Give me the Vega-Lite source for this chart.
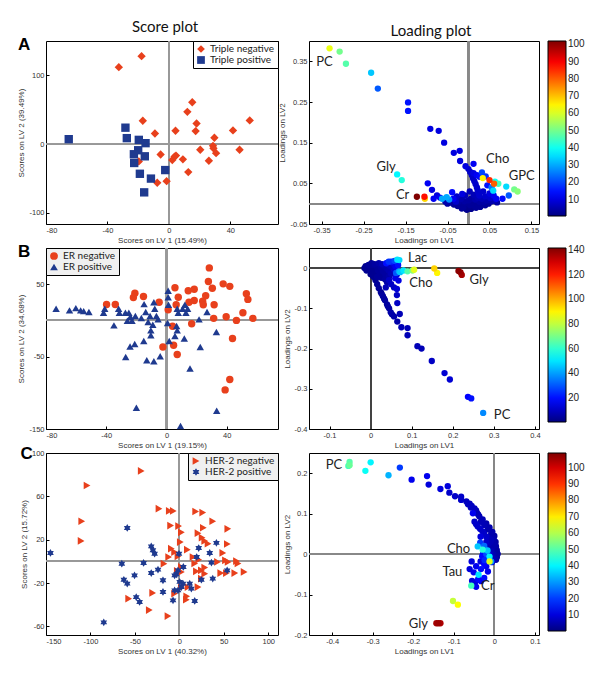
{
  "$schema": "https://vega.github.io/schema/vega-lite/v6.json",
  "padding": {"left": 17, "top": 19, "right": 4, "bottom": 4},
  "config": {
    "view": {"stroke": "#000", "strokeWidth": 1},
    "axis": {"grid": false, "domain": false, "tickColor": "#000", "tickSize": -3, "labelPadding": 5, "labelFont": "Liberation Sans", "labelFontSize": 7.5, "labelColor": "#333", "titleFont": "Liberation Sans", "titleFontSize": 8, "titleFontWeight": "normal", "titleColor": "#333", "labelOverlap": false, "titlePadding": 3, "labelExpr": "replace(format(datum.value, '~g'), '\u2212', '-')"},
    "title": {"font": "Lato", "fontSize": 15, "fontWeight": "normal", "color": "#111"}
  },
  "datasets": {
    "sA": [
      {"x": -32.6, "y": 112, "g": "Triple negative"}, {"x": -17.8, "y": 128, "g": "Triple negative"}, {"x": -17, "y": 34, "g": "Triple negative"}, {"x": -9.1, "y": 15.6, "g": "Triple negative"}, {"x": -5.4, "y": -15, "g": "Triple negative"}, {"x": 4.3, "y": 19.5, "g": "Triple negative"}, {"x": 12, "y": 47, "g": "Triple negative"}, {"x": 15.2, "y": 61, "g": "Triple negative"}, {"x": 18, "y": 30, "g": "Triple negative"}, {"x": 17.4, "y": 19, "g": "Triple negative"}, {"x": 20.4, "y": -8, "g": "Triple negative"}, {"x": 29.6, "y": 9.3, "g": "Triple negative"}, {"x": 28.7, "y": -2.4, "g": "Triple negative"}, {"x": 29, "y": -6, "g": "Triple negative"}, {"x": 30.7, "y": -13, "g": "Triple negative"}, {"x": 26, "y": -24, "g": "Triple negative"}, {"x": 41.7, "y": 20, "g": "Triple negative"}, {"x": 46, "y": -8, "g": "Triple negative"}, {"x": 52.6, "y": 34.6, "g": "Triple negative"}, {"x": 2.2, "y": -23, "g": "Triple negative"}, {"x": 3.7, "y": -18, "g": "Triple negative"}, {"x": 4.6, "y": -16.6, "g": "Triple negative"}, {"x": 9.1, "y": -22, "g": "Triple negative"}, {"x": 12.6, "y": -40.5, "g": "Triple negative"}, {"x": -1.5, "y": -53.7, "g": "Triple negative"}, {"x": -7.6, "y": -56, "g": "Triple negative"}, {"x": -19.6, "y": -25, "g": "Triple negative"},
      {"x": -65.2, "y": 7.3, "g": "Triple positive"}, {"x": -28.3, "y": 24, "g": "Triple positive"}, {"x": -27.4, "y": 8.8, "g": "Triple positive"}, {"x": -19.6, "y": 6.3, "g": "Triple positive"}, {"x": -15.2, "y": 1.5, "g": "Triple positive"}, {"x": -20, "y": -8.8, "g": "Triple positive"}, {"x": -22.8, "y": -14.6, "g": "Triple positive"}, {"x": -15.7, "y": -17.6, "g": "Triple positive"}, {"x": -22.6, "y": -27.3, "g": "Triple positive"}, {"x": -18.9, "y": -43, "g": "Triple positive"}, {"x": -11.7, "y": -50, "g": "Triple positive"}, {"x": -16.1, "y": -70, "g": "Triple positive"}, {"x": -2.4, "y": -37.6, "g": "Triple positive"}
    ],
    "sB": [
      {"x": -21, "y": 37.6, "g": "ER negative"}, {"x": -22, "y": 31.7, "g": "ER negative"}, {"x": -15.3, "y": 33, "g": "ER negative"}, {"x": -39.8, "y": 22, "g": "ER negative"}, {"x": -34, "y": 22, "g": "ER negative"}, {"x": -4.9, "y": 25, "g": "ER negative"}, {"x": 5.6, "y": 45, "g": "ER negative"}, {"x": 7.8, "y": 32, "g": "ER negative"}, {"x": 6.4, "y": 21.6, "g": "ER negative"}, {"x": 14.4, "y": 41, "g": "ER negative"}, {"x": 18.4, "y": 43, "g": "ER negative"}, {"x": 26, "y": 34, "g": "ER negative"}, {"x": 24, "y": 26.6, "g": "ER negative"}, {"x": 24.4, "y": 21.6, "g": "ER negative"}, {"x": 18.4, "y": 27.5, "g": "ER negative"}, {"x": 14.9, "y": 25, "g": "ER negative"}, {"x": 28.4, "y": 72.5, "g": "ER negative"}, {"x": 27.8, "y": 53.7, "g": "ER negative"}, {"x": 30.4, "y": 44.5, "g": "ER negative"}, {"x": 37.6, "y": 50.5, "g": "ER negative"}, {"x": 42, "y": 47, "g": "ER negative"}, {"x": 31.6, "y": 21.6, "g": "ER negative"}, {"x": 31.3, "y": 2.8, "g": "ER negative"}, {"x": 39.6, "y": 5, "g": "ER negative"}, {"x": 46.4, "y": 0, "g": "ER negative"}, {"x": 50.7, "y": 10.5, "g": "ER negative"}, {"x": 53, "y": 36.7, "g": "ER negative"}, {"x": 54, "y": 29, "g": "ER negative"}, {"x": 57.3, "y": 2.8, "g": "ER negative"}, {"x": 16.7, "y": -4.6, "g": "ER negative"}, {"x": 43.8, "y": -25, "g": "ER negative"}, {"x": 1.1, "y": 14.7, "g": "ER negative"}, {"x": -2.4, "y": -36.7, "g": "ER negative"}, {"x": 4.7, "y": -34.4, "g": "ER negative"}, {"x": 7.1, "y": -47, "g": "ER negative"}, {"x": 38.9, "y": -96, "g": "ER negative"}, {"x": 42, "y": -81.7, "g": "ER negative"}, {"x": 4, "y": -8, "g": "ER negative"},
      {"x": -73.3, "y": 16, "g": "ER positive"}, {"x": -64.4, "y": 13.8, "g": "ER positive"}, {"x": -60.2, "y": 17, "g": "ER positive"}, {"x": -57, "y": 13.8, "g": "ER positive"}, {"x": -55, "y": 12.8, "g": "ER positive"}, {"x": -51.5, "y": 11.5, "g": "ER positive"}, {"x": -41.8, "y": 10.5, "g": "ER positive"}, {"x": -41, "y": 16, "g": "ER positive"}, {"x": -34.9, "y": -6.9, "g": "ER positive"}, {"x": -31.8, "y": 16, "g": "ER positive"}, {"x": -31.3, "y": 10.5, "g": "ER positive"}, {"x": -27.3, "y": 10.5, "g": "ER positive"}, {"x": -25, "y": 10.5, "g": "ER positive"}, {"x": -24, "y": 5, "g": "ER positive"}, {"x": -26, "y": -0.5, "g": "ER positive"}, {"x": -22.9, "y": -0.5, "g": "ER positive"}, {"x": -20.7, "y": 6, "g": "ER positive"}, {"x": -16.7, "y": 3.2, "g": "ER positive"}, {"x": -14.9, "y": 22.5, "g": "ER positive"}, {"x": -13.8, "y": 11.5, "g": "ER positive"}, {"x": -10.9, "y": 6, "g": "ER positive"}, {"x": -12.2, "y": -2.3, "g": "ER positive"}, {"x": -8.4, "y": 25, "g": "ER positive"}, {"x": -7.8, "y": 16, "g": "ER positive"}, {"x": -6.7, "y": 6, "g": "ER positive"}, {"x": -5.6, "y": 1.4, "g": "ER positive"}, {"x": -9.1, "y": -6, "g": "ER positive"}, {"x": -10.4, "y": -13.8, "g": "ER positive"}, {"x": -10.4, "y": -20.6, "g": "ER positive"}, {"x": -15.1, "y": -28.4, "g": "ER positive"}, {"x": -21.1, "y": -32.6, "g": "ER positive"}, {"x": -24.2, "y": -36, "g": "ER positive"}, {"x": 1.1, "y": 41, "g": "ER positive"}, {"x": 1.1, "y": 32, "g": "ER positive"}, {"x": 1.3, "y": 21.6, "g": "ER positive"}, {"x": 0.7, "y": -3.7, "g": "ER positive"}, {"x": 6.7, "y": -7.8, "g": "ER positive"}, {"x": 7.8, "y": 10.5, "g": "ER positive"}, {"x": 7.1, "y": 16, "g": "ER positive"}, {"x": 10.7, "y": 16, "g": "ER positive"}, {"x": 12.2, "y": 21.6, "g": "ER positive"}, {"x": 14, "y": 16, "g": "ER positive"}, {"x": 12.9, "y": 10.5, "g": "ER positive"}, {"x": 7.1, "y": -13.8, "g": "ER positive"}, {"x": 5.6, "y": -21.6, "g": "ER positive"}, {"x": 1.8, "y": -28.4, "g": "ER positive"}, {"x": 11.8, "y": -25, "g": "ER positive"}, {"x": 21.6, "y": 1.4, "g": "ER positive"}, {"x": 26.9, "y": 11.5, "g": "ER positive"}, {"x": 33.1, "y": -16, "g": "ER positive"}, {"x": 22.4, "y": -36.7, "g": "ER positive"}, {"x": -27.1, "y": -50.5, "g": "ER positive"}, {"x": -13.1, "y": -55, "g": "ER positive"}, {"x": -8.4, "y": -56.4, "g": "ER positive"}, {"x": -4.2, "y": -49.5, "g": "ER positive"}, {"x": 15.6, "y": -66.5, "g": "ER positive"}, {"x": -20, "y": -120.6, "g": "ER positive"}, {"x": 33.3, "y": -124.8, "g": "ER positive"}, {"x": 9.3, "y": -145.9, "g": "ER positive"}
    ],
    "sC": [
      {"x": -42.9, "y": 83.4, "g": "HER-2 negative"}, {"x": -103.8, "y": 70, "g": "HER-2 negative"}, {"x": -109.8, "y": 37, "g": "HER-2 negative"}, {"x": -110.5, "y": 18.8, "g": "HER-2 negative"}, {"x": -22.9, "y": 48.6, "g": "HER-2 negative"}, {"x": -11.3, "y": 46.5, "g": "HER-2 negative"}, {"x": -6.8, "y": 46.5, "g": "HER-2 negative"}, {"x": -9.8, "y": 33, "g": "HER-2 negative"}, {"x": -0.8, "y": 32.6, "g": "HER-2 negative"}, {"x": 2.3, "y": 26.8, "g": "HER-2 negative"}, {"x": 1.1, "y": 17.8, "g": "HER-2 negative"}, {"x": 18.4, "y": 46, "g": "HER-2 negative"}, {"x": 26.3, "y": 45, "g": "HER-2 negative"}, {"x": 37.6, "y": 37, "g": "HER-2 negative"}, {"x": 27, "y": 31, "g": "HER-2 negative"}, {"x": 21, "y": 26, "g": "HER-2 negative"}, {"x": 25.6, "y": 21.8, "g": "HER-2 negative"}, {"x": 28.6, "y": 18.8, "g": "HER-2 negative"}, {"x": 32.3, "y": 16.3, "g": "HER-2 negative"}, {"x": 54.5, "y": 30, "g": "HER-2 negative"}, {"x": 54, "y": 16, "g": "HER-2 negative"}, {"x": 48.9, "y": 7.7, "g": "HER-2 negative"}, {"x": 42.9, "y": -0.6, "g": "HER-2 negative"}, {"x": 51.9, "y": 0.9, "g": "HER-2 negative"}, {"x": 54.9, "y": -0.6, "g": "HER-2 negative"}, {"x": 64.3, "y": 0.3, "g": "HER-2 negative"}, {"x": 66, "y": -2, "g": "HER-2 negative"}, {"x": 53, "y": -10.8, "g": "HER-2 negative"}, {"x": 62.4, "y": -10.8, "g": "HER-2 negative"}, {"x": 72.9, "y": -9.8, "g": "HER-2 negative"}, {"x": 46.6, "y": -10.8, "g": "HER-2 negative"}, {"x": 28.6, "y": -11.4, "g": "HER-2 negative"}, {"x": 28.6, "y": -5.8, "g": "HER-2 negative"}, {"x": 19.2, "y": -9.2, "g": "HER-2 negative"}, {"x": 24.8, "y": -8.3, "g": "HER-2 negative"}, {"x": 17.3, "y": -2, "g": "HER-2 negative"}, {"x": 9, "y": 10.8, "g": "HER-2 negative"}, {"x": 15.4, "y": 4, "g": "HER-2 negative"}, {"x": 21.8, "y": 1.5, "g": "HER-2 negative"}, {"x": -9, "y": 11.7, "g": "HER-2 negative"}, {"x": -5.3, "y": 8.6, "g": "HER-2 negative"}, {"x": -12, "y": 4, "g": "HER-2 negative"}, {"x": -17.3, "y": -2.2, "g": "HER-2 negative"}, {"x": -1.5, "y": 4.6, "g": "HER-2 negative"}, {"x": 2.3, "y": -5.2, "g": "HER-2 negative"}, {"x": -2.3, "y": -8.9, "g": "HER-2 negative"}, {"x": 2.3, "y": -9.8, "g": "HER-2 negative"}, {"x": 24.8, "y": -16, "g": "HER-2 negative"}, {"x": 21, "y": -23.7, "g": "HER-2 negative"}, {"x": 9.8, "y": -23.7, "g": "HER-2 negative"}, {"x": 2.3, "y": -24.3, "g": "HER-2 negative"}, {"x": -5.3, "y": -29.8, "g": "HER-2 negative"}, {"x": 8.3, "y": -32.3, "g": "HER-2 negative"}, {"x": 7.9, "y": -35.4, "g": "HER-2 negative"}, {"x": -30, "y": -29.2, "g": "HER-2 negative"}, {"x": -57, "y": -34.5, "g": "HER-2 negative"}, {"x": -33.8, "y": -45, "g": "HER-2 negative"}, {"x": -12.8, "y": -50.5, "g": "HER-2 negative"},
      {"x": -145, "y": 7.7, "g": "HER-2 positive"}, {"x": -58.6, "y": 30.8, "g": "HER-2 positive"}, {"x": -31.6, "y": 13.8, "g": "HER-2 positive"}, {"x": -29.7, "y": 10.2, "g": "HER-2 positive"}, {"x": -27.8, "y": 7, "g": "HER-2 positive"}, {"x": -40.2, "y": -1.5, "g": "HER-2 positive"}, {"x": -64.7, "y": -2.2, "g": "HER-2 positive"}, {"x": -62.4, "y": -17, "g": "HER-2 positive"}, {"x": -58.6, "y": -20.6, "g": "HER-2 positive"}, {"x": -50.4, "y": -13, "g": "HER-2 positive"}, {"x": -48.5, "y": -33, "g": "HER-2 positive"}, {"x": -44.7, "y": -37.5, "g": "HER-2 positive"}, {"x": -85, "y": -56.3, "g": "HER-2 positive"}, {"x": -31.6, "y": -10.8, "g": "HER-2 positive"}, {"x": -24, "y": -7.7, "g": "HER-2 positive"}, {"x": -18.4, "y": -17.5, "g": "HER-2 positive"}, {"x": -18.4, "y": -28.3, "g": "HER-2 positive"}, {"x": -3.4, "y": -12, "g": "HER-2 positive"}, {"x": -1.5, "y": -8.3, "g": "HER-2 positive"}, {"x": -5.3, "y": -13, "g": "HER-2 positive"}, {"x": -0.4, "y": 7, "g": "HER-2 positive"}, {"x": 4.5, "y": -5.2, "g": "HER-2 positive"}, {"x": -5.3, "y": -26.8, "g": "HER-2 positive"}, {"x": 0.4, "y": -19, "g": "HER-2 positive"}, {"x": 2.3, "y": -23.7, "g": "HER-2 positive"}, {"x": -7.1, "y": -36, "g": "HER-2 positive"}, {"x": -1.5, "y": -26.8, "g": "HER-2 positive"}, {"x": 4.1, "y": -20.6, "g": "HER-2 positive"}, {"x": 11.7, "y": -20.6, "g": "HER-2 positive"}, {"x": 13.5, "y": -25.2, "g": "HER-2 positive"}, {"x": 17.3, "y": -36.6, "g": "HER-2 positive"}, {"x": 19.5, "y": 4, "g": "HER-2 positive"}, {"x": 21.8, "y": 12.3, "g": "HER-2 positive"}, {"x": 34.2, "y": 7.7, "g": "HER-2 positive"}, {"x": 36.1, "y": -1.2, "g": "HER-2 positive"}, {"x": 41.7, "y": 17, "g": "HER-2 positive"}, {"x": 24.8, "y": -17, "g": "HER-2 positive"}, {"x": 37.6, "y": -16, "g": "HER-2 positive"}, {"x": 53.8, "y": -8.3, "g": "HER-2 positive"}
    ],
    "lA": [
      {"x": -0.331, "y": 0.382, "v": 62}, {"x": -0.307, "y": 0.374, "v": 50}, {"x": -0.292, "y": 0.344, "v": 47}, {"x": -0.232, "y": 0.322, "v": 33}, {"x": -0.216, "y": 0.283, "v": 22}, {"x": -0.144, "y": 0.249, "v": 15}, {"x": -0.144, "y": 0.228, "v": 15}, {"x": -0.091, "y": 0.184, "v": 10}, {"x": -0.071, "y": 0.179, "v": 10}, {"x": -0.058, "y": 0.15, "v": 10}, {"x": -0.035, "y": 0.125, "v": 10}, {"x": -0.021, "y": 0.13, "v": 10}, {"x": -0.02, "y": 0.105, "v": 10}, {"x": -0.007, "y": 0.092, "v": 10},
      {"x": 0.0, "y": 0.085, "v": 8}, {"x": 0.004, "y": 0.078, "v": 8}, {"x": 0.008, "y": 0.07, "v": 8}, {"x": 0.011, "y": 0.062, "v": 8}, {"x": 0.014, "y": 0.055, "v": 8}, {"x": 0.017, "y": 0.048, "v": 8}, {"x": 0.02, "y": 0.04, "v": 8}, {"x": 0.022, "y": 0.033, "v": 8}, {"x": 0.024, "y": 0.026, "v": 8}, {"x": 0.026, "y": 0.02, "v": 8}, {"x": 0.012, "y": 0.075, "v": 10}, {"x": 0.02, "y": 0.07, "v": 12}, {"x": 0.026, "y": 0.066, "v": 14}, {"x": 0.012, "y": 0.098, "v": 12},
      {"x": -0.17, "y": 0.072, "v": 38}, {"x": -0.159, "y": 0.058, "v": 42},
      {"x": -0.123, "y": 0.017, "v": 102}, {"x": -0.105, "y": 0.017, "v": 88}, {"x": -0.104, "y": 0.012, "v": 68},
      {"x": -0.097, "y": 0.05, "v": 12}, {"x": -0.087, "y": 0.034, "v": 10}, {"x": -0.083, "y": 0.012, "v": 12}, {"x": -0.075, "y": 0.02, "v": 10}, {"x": -0.068, "y": 0.015, "v": 12}, {"x": -0.063, "y": 0.012, "v": 30}, {"x": -0.052, "y": 0.016, "v": 30}, {"x": -0.046, "y": 0.01, "v": 28}, {"x": -0.039, "y": 0.028, "v": 14}, {"x": -0.036, "y": 0.012, "v": 12}, {"x": -0.03, "y": 0.005, "v": 8},
      {"x": 0.032, "y": 0.077, "v": 20}, {"x": 0.041, "y": 0.067, "v": 18}, {"x": 0.034, "y": 0.063, "v": 65}, {"x": 0.05, "y": 0.058, "v": 85}, {"x": 0.061, "y": 0.049, "v": 80}, {"x": 0.063, "y": 0.054, "v": 40}, {"x": 0.071, "y": 0.049, "v": 45}, {"x": 0.059, "y": 0.032, "v": 35}, {"x": 0.045, "y": 0.045, "v": 15}, {"x": 0.055, "y": 0.04, "v": 25},
      {"x": 0.09, "y": 0.042, "v": 35}, {"x": 0.109, "y": 0.035, "v": 50}, {"x": 0.117, "y": 0.03, "v": 52}, {"x": 0.096, "y": 0.02, "v": 22}, {"x": 0.081, "y": 0.012, "v": 14}, {"x": 0.066, "y": 0.012, "v": 12},
      {"x": -0.055, "y": 0.005, "v": 5}, {"x": -0.05, "y": 0.0, "v": 4}, {"x": -0.045, "y": 0.008, "v": 5}, {"x": -0.04, "y": 0.002, "v": 4}, {"x": -0.035, "y": -0.002, "v": 3}, {"x": -0.03, "y": 0.01, "v": 6}, {"x": -0.025, "y": 0.004, "v": 4}, {"x": -0.02, "y": -0.005, "v": 3}, {"x": -0.018, "y": 0.012, "v": 5}, {"x": -0.015, "y": 0.0, "v": 3}, {"x": -0.012, "y": -0.008, "v": 3}, {"x": -0.01, "y": 0.006, "v": 4}, {"x": -0.006, "y": -0.012, "v": 2}, {"x": -0.004, "y": 0.002, "v": 3}, {"x": 0.0, "y": -0.01, "v": 2}, {"x": 0.0, "y": 0.008, "v": 4}, {"x": 0.004, "y": -0.004, "v": 3}, {"x": 0.006, "y": 0.012, "v": 4}, {"x": 0.008, "y": -0.008, "v": 2}, {"x": 0.01, "y": 0.003, "v": 3}, {"x": 0.014, "y": -0.006, "v": 3}, {"x": 0.016, "y": 0.01, "v": 5}, {"x": 0.02, "y": -0.002, "v": 3}, {"x": 0.022, "y": 0.015, "v": 6}, {"x": 0.026, "y": 0.005, "v": 4}, {"x": 0.03, "y": -0.004, "v": 3}, {"x": 0.032, "y": 0.012, "v": 6}, {"x": 0.036, "y": 0.004, "v": 4}, {"x": 0.04, "y": 0.018, "v": 8}, {"x": 0.044, "y": 0.008, "v": 5}, {"x": 0.048, "y": 0.0, "v": 3}, {"x": 0.052, "y": 0.014, "v": 8}, {"x": 0.056, "y": 0.006, "v": 5}, {"x": 0.06, "y": 0.02, "v": 12}, {"x": 0.064, "y": 0.01, "v": 6}, {"x": 0.068, "y": 0.003, "v": 4}, {"x": -0.008, "y": 0.02, "v": 6}, {"x": 0.012, "y": 0.022, "v": 6}, {"x": -0.028, "y": 0.018, "v": 8}, {"x": -0.015, "y": 0.024, "v": 10}, {"x": -0.004, "y": -0.015, "v": 2}, {"x": 0.006, "y": -0.013, "v": 2}, {"x": 0.018, "y": -0.01, "v": 3}, {"x": -0.016, "y": -0.012, "v": 3}, {"x": 0.028, "y": -0.008, "v": 3}, {"x": 0.04, "y": -0.004, "v": 3}, {"x": -0.026, "y": -0.006, "v": 3}, {"x": 0.003, "y": 0.03, "v": 6}, {"x": 0.05, "y": 0.025, "v": 10}, {"x": 0.035, "y": 0.03, "v": 8}
    ],
    "lB": [
      {"x": 0.274, "y": -0.36, "v": 37}, {"x": 0.245, "y": -0.324, "v": 20}, {"x": 0.237, "y": -0.32, "v": 18}, {"x": 0.193, "y": -0.277, "v": 12}, {"x": 0.18, "y": -0.261, "v": 12}, {"x": 0.149, "y": -0.231, "v": 10}, {"x": 0.124, "y": -0.2, "v": 8}, {"x": 0.114, "y": -0.194, "v": 8}, {"x": 0.09, "y": -0.167, "v": 8}, {"x": 0.09, "y": -0.149, "v": 8}, {"x": 0.075, "y": -0.147, "v": 8}, {"x": 0.065, "y": -0.133, "v": 6}, {"x": 0.057, "y": -0.12, "v": 6}, {"x": 0.049, "y": -0.11, "v": 6}, {"x": 0.045, "y": -0.1, "v": 5}, {"x": 0.04, "y": -0.09, "v": 5}, {"x": 0.035, "y": -0.08, "v": 5}, {"x": 0.03, "y": -0.07, "v": 5}, {"x": 0.025, "y": -0.06, "v": 4}, {"x": 0.02, "y": -0.05, "v": 4}, {"x": 0.016, "y": -0.04, "v": 4}, {"x": 0.012, "y": -0.03, "v": 3}, {"x": 0.008, "y": -0.022, "v": 3}, {"x": 0.052, "y": -0.115, "v": 5}, {"x": 0.042, "y": -0.095, "v": 5}, {"x": 0.033, "y": -0.076, "v": 4}, {"x": 0.027, "y": -0.064, "v": 4},
      {"x": 0.071, "y": -0.114, "v": 8}, {"x": 0.065, "y": -0.087, "v": 10}, {"x": 0.064, "y": -0.067, "v": 10}, {"x": 0.064, "y": -0.052, "v": 12}, {"x": 0.068, "y": -0.031, "v": 14}, {"x": 0.057, "y": -0.048, "v": 10}, {"x": 0.037, "y": -0.048, "v": 8}, {"x": 0.05, "y": -0.04, "v": 10}, {"x": 0.06, "y": -0.025, "v": 15}, {"x": 0.045, "y": -0.03, "v": 10},
      {"x": 0.065, "y": 0.021, "v": 50}, {"x": 0.07, "y": 0.02, "v": 48}, {"x": 0.058, "y": 0.018, "v": 28}, {"x": 0.05, "y": 0.016, "v": 22}, {"x": 0.044, "y": 0.016, "v": 25}, {"x": 0.038, "y": 0.012, "v": 20},
      {"x": 0.214, "y": -0.007, "v": 140}, {"x": 0.219, "y": -0.011, "v": 138}, {"x": 0.222, "y": -0.017, "v": 136},
      {"x": 0.155, "y": -0.001, "v": 95}, {"x": 0.162, "y": -0.012, "v": 90}, {"x": 0.106, "y": -0.004, "v": 85}, {"x": 0.102, "y": -0.006, "v": 72}, {"x": 0.09, "y": -0.008, "v": 65}, {"x": 0.08, "y": -0.006, "v": 50}, {"x": 0.072, "y": -0.01, "v": 45}, {"x": 0.069, "y": -0.008, "v": 40}, {"x": 0.062, "y": -0.012, "v": 30},
      {"x": -0.012, "y": 0.005, "v": 3}, {"x": -0.008, "y": 0.002, "v": 3}, {"x": -0.005, "y": 0.008, "v": 4}, {"x": -0.002, "y": -0.004, "v": 3}, {"x": 0.0, "y": 0.004, "v": 3}, {"x": 0.003, "y": -0.01, "v": 3}, {"x": 0.005, "y": 0.008, "v": 4}, {"x": 0.008, "y": -0.002, "v": 3}, {"x": 0.01, "y": 0.01, "v": 5}, {"x": 0.012, "y": -0.012, "v": 3}, {"x": 0.015, "y": 0.004, "v": 4}, {"x": 0.018, "y": -0.006, "v": 4}, {"x": 0.02, "y": 0.012, "v": 6}, {"x": 0.023, "y": -0.014, "v": 4}, {"x": 0.025, "y": 0.002, "v": 5}, {"x": 0.028, "y": 0.01, "v": 8}, {"x": 0.03, "y": -0.008, "v": 5}, {"x": 0.033, "y": 0.006, "v": 6}, {"x": 0.036, "y": -0.016, "v": 5}, {"x": 0.038, "y": 0.0, "v": 6}, {"x": 0.041, "y": 0.012, "v": 10}, {"x": 0.044, "y": -0.006, "v": 7}, {"x": 0.047, "y": 0.006, "v": 9}, {"x": 0.05, "y": -0.014, "v": 8}, {"x": 0.053, "y": 0.002, "v": 10}, {"x": 0.056, "y": 0.01, "v": 14}, {"x": 0.058, "y": -0.004, "v": 12}, {"x": 0.061, "y": 0.004, "v": 16}, {"x": 0.064, "y": -0.016, "v": 12}, {"x": 0.067, "y": 0.008, "v": 20}, {"x": -0.015, "y": 0.0, "v": 3}, {"x": 0.0, "y": -0.015, "v": 2}, {"x": 0.006, "y": -0.02, "v": 3}, {"x": 0.016, "y": -0.022, "v": 4}, {"x": 0.026, "y": -0.024, "v": 4}, {"x": 0.035, "y": -0.028, "v": 5}, {"x": 0.045, "y": -0.02, "v": 6}, {"x": 0.04, "y": -0.035, "v": 6}, {"x": -0.01, "y": -0.006, "v": 3}, {"x": 0.002, "y": 0.012, "v": 4}
    ],
    "lC": [
      {"x": -0.357, "y": 0.228, "v": 50}, {"x": -0.357, "y": 0.22, "v": 52}, {"x": -0.36, "y": 0.218, "v": 48}, {"x": -0.305, "y": 0.227, "v": 40}, {"x": -0.318, "y": 0.206, "v": 42}, {"x": -0.261, "y": 0.195, "v": 33}, {"x": -0.233, "y": 0.214, "v": 20}, {"x": -0.204, "y": 0.184, "v": 12}, {"x": -0.166, "y": 0.193, "v": 12}, {"x": -0.162, "y": 0.172, "v": 10}, {"x": -0.133, "y": 0.161, "v": 10}, {"x": -0.115, "y": 0.168, "v": 10}, {"x": -0.111, "y": 0.152, "v": 8}, {"x": -0.097, "y": 0.143, "v": 8}, {"x": -0.082, "y": 0.142, "v": 8}, {"x": -0.082, "y": 0.134, "v": 8}, {"x": -0.069, "y": 0.13, "v": 7}, {"x": -0.061, "y": 0.125, "v": 7}, {"x": -0.056, "y": 0.119, "v": 7}, {"x": -0.053, "y": 0.101, "v": 12}, {"x": -0.049, "y": 0.113, "v": 7}, {"x": -0.043, "y": 0.102, "v": 6}, {"x": -0.037, "y": 0.093, "v": 6}, {"x": -0.033, "y": 0.08, "v": 6}, {"x": -0.025, "y": 0.072, "v": 6}, {"x": -0.016, "y": 0.061, "v": 5}, {"x": -0.008, "y": 0.05, "v": 5}, {"x": -0.002, "y": 0.035, "v": 5}, {"x": 0.004, "y": 0.019, "v": 4}, {"x": 0.007, "y": 0.002, "v": 4}, {"x": 0.004, "y": -0.014, "v": 4}, {"x": -0.065, "y": 0.123, "v": 7}, {"x": -0.058, "y": 0.115, "v": 7}, {"x": -0.045, "y": 0.108, "v": 6}, {"x": -0.04, "y": 0.098, "v": 6}, {"x": -0.029, "y": 0.086, "v": 6}, {"x": -0.02, "y": 0.076, "v": 5}, {"x": -0.012, "y": 0.066, "v": 5}, {"x": -0.005, "y": 0.055, "v": 5}, {"x": 0.0, "y": 0.045, "v": 4}, {"x": 0.003, "y": 0.03, "v": 4}, {"x": 0.006, "y": 0.01, "v": 4}, {"x": 0.005, "y": -0.005, "v": 4},
      {"x": -0.049, "y": 0.08, "v": 8}, {"x": -0.041, "y": 0.068, "v": 8}, {"x": -0.029, "y": 0.056, "v": 8}, {"x": -0.02, "y": 0.043, "v": 8}, {"x": -0.034, "y": 0.043, "v": 10}, {"x": -0.045, "y": 0.074, "v": 8}, {"x": -0.035, "y": 0.062, "v": 8}, {"x": -0.025, "y": 0.05, "v": 8}, {"x": -0.015, "y": 0.04, "v": 6}, {"x": -0.01, "y": 0.03, "v": 6},
      {"x": -0.041, "y": 0.019, "v": 35}, {"x": -0.029, "y": 0.011, "v": 45}, {"x": -0.017, "y": 0.009, "v": 35}, {"x": -0.012, "y": -0.006, "v": 40}, {"x": -0.008, "y": -0.018, "v": 30}, {"x": -0.012, "y": -0.018, "v": 65}, {"x": -0.035, "y": 0.028, "v": 20}, {"x": -0.025, "y": 0.02, "v": 25}, {"x": -0.02, "y": 0.0, "v": 22}, {"x": -0.03, "y": -0.005, "v": 15},
      {"x": -0.034, "y": -0.018, "v": 10}, {"x": -0.056, "y": -0.018, "v": 10}, {"x": -0.061, "y": -0.037, "v": 10}, {"x": -0.051, "y": -0.045, "v": 12}, {"x": -0.039, "y": -0.051, "v": 38}, {"x": -0.033, "y": -0.037, "v": 15}, {"x": -0.02, "y": -0.03, "v": 12}, {"x": -0.016, "y": -0.043, "v": 12}, {"x": -0.025, "y": -0.025, "v": 14}, {"x": -0.045, "y": -0.03, "v": 12},
      {"x": -0.025, "y": -0.059, "v": 15}, {"x": -0.033, "y": -0.067, "v": 12}, {"x": -0.048, "y": -0.071, "v": 10}, {"x": -0.055, "y": -0.066, "v": 10}, {"x": -0.057, "y": -0.078, "v": 48}, {"x": -0.045, "y": -0.081, "v": 12}, {"x": -0.04, "y": -0.062, "v": 14},
      {"x": -0.102, "y": -0.116, "v": 62}, {"x": -0.09, "y": -0.125, "v": 68},
      {"x": -0.143, "y": -0.171, "v": 105}, {"x": -0.138, "y": -0.171, "v": 106}, {"x": -0.133, "y": -0.171, "v": 104},
      {"x": -0.02, "y": 0.03, "v": 8}, {"x": -0.015, "y": 0.025, "v": 6}, {"x": -0.01, "y": 0.02, "v": 5}, {"x": -0.005, "y": 0.015, "v": 5}, {"x": 0.0, "y": 0.01, "v": 4}, {"x": 0.005, "y": 0.005, "v": 4}, {"x": 0.008, "y": 0.0, "v": 4}, {"x": 0.006, "y": -0.008, "v": 4}, {"x": 0.002, "y": -0.012, "v": 5}, {"x": -0.004, "y": -0.01, "v": 6}, {"x": -0.01, "y": -0.002, "v": 8}, {"x": -0.015, "y": 0.005, "v": 10}, {"x": -0.022, "y": 0.012, "v": 12}, {"x": -0.008, "y": 0.008, "v": 6}, {"x": -0.003, "y": 0.0, "v": 5}, {"x": 0.002, "y": 0.022, "v": 5}, {"x": -0.002, "y": 0.04, "v": 5}, {"x": -0.008, "y": 0.035, "v": 6}, {"x": -0.018, "y": -0.01, "v": 12}, {"x": -0.006, "y": -0.02, "v": 10}, {"x": -0.028, "y": 0.0, "v": 14}, {"x": -0.024, "y": -0.015, "v": 18}
    ],
    "tA": [{"x": -0.363, "y": 0.349, "t": "PC"}, {"x": -0.219, "y": 0.091, "t": "Gly"}, {"x": -0.173, "y": 0.021, "t": "Cr"}, {"x": 0.042, "y": 0.11, "t": "Cho"}, {"x": 0.096, "y": 0.067, "t": "GPC"}],
    "tB": [{"x": 0.091, "y": 0.025, "t": "Lac"}, {"x": 0.094, "y": -0.038, "t": "Cho"}, {"x": 0.241, "y": -0.029, "t": "Gly"}, {"x": 0.3, "y": -0.364, "t": "PC"}],
    "tC": [{"x": -0.416, "y": 0.22, "t": "PC"}, {"x": -0.117, "y": 0.012, "t": "Cho"}, {"x": -0.128, "y": -0.045, "t": "Tau"}, {"x": -0.033, "y": -0.078, "t": "Cr"}, {"x": -0.211, "y": -0.172, "t": "Gly"}]
  },
  "hconcat": [
    {
      "title": {"text": "Score plot", "offset": 1, "anchor": "middle", "frame": "group", "dx": 119},
      "spacing": 24,
      "bounds": "flush",
      "resolve": {"scale": {"color": "independent", "shape": "independent"}, "legend": {"color": "independent", "shape": "independent"}},
      "vconcat": [
        {
          "title": {"text": "A", "anchor": "start", "frame": "bounds", "font": "Liberation Sans", "fontSize": 17, "fontWeight": "bold", "color": "#000", "offset": 0, "dy": 14},
          "width": 232, "height": 183,
          "data": {"name": "sA"},
          "layer": [
            {"mark": {"type": "rule", "color": "#999", "strokeWidth": 1.3}, "encoding": {"x": {"datum": 0}}},
            {"mark": {"type": "rule", "color": "#999", "strokeWidth": 1.3}, "encoding": {"y": {"datum": 0}}},
            {"mark": {"type": "point", "filled": true, "opacity": 1, "size": 70},
             "encoding": {
               "x": {"field": "x", "type": "quantitative", "scale": {"domain": [-80, 71], "nice": false, "zero": false}, "axis": {"values": [-80, -60, -40, -20, 0, 20, 40, 60], "title": "Scores on LV 1 (15.49%)"}},
               "y": {"field": "y", "type": "quantitative", "scale": {"domain": [-116, 150], "nice": false, "zero": false}, "axis": {"values": [-100, -50, 0, 50, 100, 150], "title": "Scores on LV 2 (39.49%)"}},
               "color": {"field": "g", "type": "nominal", "scale": {"domain": ["Triple negative", "Triple positive"], "range": ["#e8401c", "#1f3a8f"]}, "legend": {"orient": "top-right", "title": null, "strokeColor": "#000", "fillColor": "#fff", "padding": 3, "offset": 0, "labelFont": "Lato", "labelFontSize": 10, "symbolSize": 60, "rowPadding": 1, "labelColor": "#222"}},
               "shape": {"field": "g", "type": "nominal", "scale": {"domain": ["Triple negative", "Triple positive"], "range": ["diamond", "square"]}, "legend": {"orient": "top-right", "title": null, "strokeColor": "#000", "fillColor": "#fff", "padding": 3, "offset": 0, "labelFont": "Lato", "labelFontSize": 10, "symbolSize": 60, "rowPadding": 1, "labelColor": "#222"}}
             }}
          ]
        },
        {
          "title": {"text": "B", "anchor": "start", "frame": "bounds", "font": "Liberation Sans", "fontSize": 17, "fontWeight": "bold", "color": "#000", "offset": 0, "dy": 14},
          "width": 232, "height": 181,
          "data": {"name": "sB"},
          "layer": [
            {"mark": {"type": "rule", "color": "#999", "strokeWidth": 1.3}, "encoding": {"x": {"datum": 0}}},
            {"mark": {"type": "rule", "color": "#999", "strokeWidth": 1.3}, "encoding": {"y": {"datum": 0}}},
            {"mark": {"type": "point", "filled": true, "opacity": 1, "size": 55},
             "encoding": {
               "x": {"field": "x", "type": "quantitative", "scale": {"domain": [-80, 74], "nice": false, "zero": false}, "axis": {"values": [-80, -60, -40, -20, 0, 20, 40, 60], "title": "Scores on LV 1 (19.15%)"}},
               "y": {"field": "y", "type": "quantitative", "scale": {"domain": [-150, 100], "nice": false, "zero": false}, "axis": {"values": [-150, -100, -50, 0, 50, 100], "title": "Scores on LV 2 (34.68%)"}},
               "color": {"field": "g", "type": "nominal", "scale": {"domain": ["ER negative", "ER positive"], "range": ["#e8401c", "#1f3a8f"]}, "legend": {"orient": "top-left", "title": null, "strokeColor": "#000", "fillColor": "#f0f0f0", "padding": 3, "offset": 0, "labelFont": "Lato", "labelFontSize": 10, "symbolSize": 60, "rowPadding": 1, "labelColor": "#222"}},
               "shape": {"field": "g", "type": "nominal", "scale": {"domain": ["ER negative", "ER positive"], "range": ["circle", "triangle-up"]}, "legend": {"orient": "top-left", "title": null, "strokeColor": "#000", "fillColor": "#f0f0f0", "padding": 3, "offset": 0, "labelFont": "Lato", "labelFontSize": 10, "symbolSize": 60, "rowPadding": 1, "labelColor": "#222"}}
             }}
          ]
        },
        {
          "title": {"text": "C", "anchor": "start", "frame": "bounds", "font": "Liberation Sans", "fontSize": 17, "fontWeight": "bold", "color": "#000", "offset": 0, "dy": 14},
          "width": 232, "height": 182,
          "data": {"name": "sC"},
          "layer": [
            {"mark": {"type": "rule", "color": "#999", "strokeWidth": 1.3}, "encoding": {"x": {"datum": 0}}},
            {"mark": {"type": "rule", "color": "#999", "strokeWidth": 1.3}, "encoding": {"y": {"datum": 0}}},
            {"mark": {"type": "point", "filled": true, "opacity": 1, "size": 60},
             "encoding": {
               "x": {"field": "x", "type": "quantitative", "scale": {"domain": [-150, 111], "nice": false, "zero": false}, "axis": {"values": [-150, -100, -50, 0, 50, 100], "title": "Scores on LV 1 (40.32%)"}},
               "y": {"field": "y", "type": "quantitative", "scale": {"domain": [-68, 100], "nice": false, "zero": false}, "axis": {"values": [-60, -40, -20, 0, 20, 40, 60, 80, 100], "title": "Scores on LV 2 (15.72%)"}},
               "color": {"field": "g", "type": "nominal", "scale": {"domain": ["HER-2 negative", "HER-2 positive"], "range": ["#e8401c", "#1f3a8f"]}, "legend": {"orient": "top-right", "title": null, "strokeColor": "#000", "fillColor": "#f0f0f0", "padding": 3, "offset": 0, "labelFont": "Lato", "labelFontSize": 10, "symbolSize": 60, "rowPadding": 1, "labelColor": "#222"}},
               "shape": {"field": "g", "type": "nominal", "scale": {"domain": ["HER-2 negative", "HER-2 positive"], "range": ["triangle-right", "M0,-1L0.2887,-0.5L0.866,-0.5L0.5774,0L0.866,0.5L0.2887,0.5L0,1L-0.2887,0.5L-0.866,0.5L-0.5774,0L-0.866,-0.5L-0.2887,-0.5Z"]}, "legend": {"orient": "top-right", "title": null, "strokeColor": "#000", "fillColor": "#f0f0f0", "padding": 3, "offset": 0, "labelFont": "Lato", "labelFontSize": 10, "symbolSize": 60, "rowPadding": 1, "labelColor": "#222"}}
             }}
          ]
        }
      ]
    },
    {
      "title": {"text": "Loading plot", "offset": 1, "anchor": "middle", "frame": "group", "dx": 122},
      "spacing": 24,
      "bounds": "flush",
      "resolve": {"scale": {"color": "independent"}, "legend": {"color": "independent"}},
      "vconcat": [
        {
          "width": 230, "height": 183,
          "layer": [
            {"data": {"name": "lA"}, "mark": {"type": "rule", "color": "#888", "strokeWidth": 1.2}, "encoding": {"x": {"datum": 0}}},
            {"data": {"name": "lA"}, "mark": {"type": "rule", "color": "#888", "strokeWidth": 1.2}, "encoding": {"y": {"datum": 0}}},
            {"data": {"name": "lA"}, "mark": {"type": "point", "filled": true, "opacity": 1, "size": 40, "shape": "circle"},
             "encoding": {
               "x": {"field": "x", "type": "quantitative", "scale": {"domain": [-0.38, 0.168], "nice": false, "zero": false}, "axis": {"values": [-0.35, -0.3, -0.25, -0.2, -0.15, -0.1, -0.05, 0, 0.05, 0.1, 0.15], "title": "Loadings on LV1"}},
               "y": {"field": "y", "type": "quantitative", "scale": {"domain": [-0.05, 0.4], "nice": false, "zero": false}, "axis": {"values": [-0.05, 0, 0.05, 0.1, 0.15, 0.2, 0.25, 0.3, 0.35, 0.4], "title": "Loadings on LV2"}},
               "order": {"field": "v", "type": "quantitative"},
               "color": {"field": "v", "type": "quantitative", "scale": {"domain": [0.5, 102], "range": ["#000080", "#0000ff", "#0080ff", "#00ffff", "#80ff80", "#ffff00", "#ff8000", "#ff0000", "#800000"], "interpolate": "rgb"}, "legend": {"orient": "right", "offset": 9, "title": null, "direction": "vertical", "gradientLength": 175, "gradientThickness": 18, "values": [10, 20, 30, 40, 50, 60, 70, 80, 90, 100], "labelFont": "Liberation Sans", "labelFontSize": 10, "labelColor": "#222", "gradientStrokeColor": "#000", "gradientStrokeWidth": 1}}
             }},
            {"data": {"name": "tA"}, "mark": {"type": "text", "align": "left", "baseline": "middle", "font": "Lato", "fontSize": 13, "color": "#222"},
             "encoding": {"x": {"field": "x", "type": "quantitative"}, "y": {"field": "y", "type": "quantitative"}, "text": {"field": "t"}}}
          ]
        },
        {
          "width": 230, "height": 181,
          "layer": [
            {"data": {"name": "lB"}, "mark": {"type": "rule", "color": "#444", "strokeWidth": 1.2}, "encoding": {"x": {"datum": 0}}},
            {"data": {"name": "lB"}, "mark": {"type": "rule", "color": "#444", "strokeWidth": 1.2}, "encoding": {"y": {"datum": 0}}},
            {"data": {"name": "lB"}, "mark": {"type": "point", "filled": true, "opacity": 1, "size": 40, "shape": "circle"},
             "encoding": {
               "x": {"field": "x", "type": "quantitative", "scale": {"domain": [-0.15, 0.41], "nice": false, "zero": false}, "axis": {"values": [-0.1, 0, 0.1, 0.2, 0.3, 0.4], "title": "Loadings on LV1"}},
               "y": {"field": "y", "type": "quantitative", "scale": {"domain": [-0.4, 0.05], "nice": false, "zero": false}, "axis": {"values": [-0.4, -0.35, -0.3, -0.25, -0.2, -0.15, -0.1, -0.05, 0, 0.05], "title": "Loadings on LV2"}},
               "order": {"field": "v", "type": "quantitative"},
               "color": {"field": "v", "type": "quantitative", "scale": {"domain": [0.5, 141.6], "range": ["#000080", "#0000ff", "#0080ff", "#00ffff", "#80ff80", "#ffff00", "#ff8000", "#ff0000", "#800000"], "interpolate": "rgb"}, "legend": {"orient": "right", "offset": 9, "title": null, "direction": "vertical", "gradientLength": 174, "gradientThickness": 18, "values": [20, 40, 60, 80, 100, 120, 140], "labelFont": "Liberation Sans", "labelFontSize": 10, "labelColor": "#222", "gradientStrokeColor": "#000", "gradientStrokeWidth": 1}}
             }},
            {"data": {"name": "tB"}, "mark": {"type": "text", "align": "left", "baseline": "middle", "font": "Lato", "fontSize": 13, "color": "#222"},
             "encoding": {"x": {"field": "x", "type": "quantitative"}, "y": {"field": "y", "type": "quantitative"}, "text": {"field": "t"}}}
          ]
        },
        {
          "width": 230, "height": 182,
          "layer": [
            {"data": {"name": "lC"}, "mark": {"type": "rule", "color": "#888", "strokeWidth": 1.2}, "encoding": {"x": {"datum": 0}}},
            {"data": {"name": "lC"}, "mark": {"type": "rule", "color": "#888", "strokeWidth": 1.2}, "encoding": {"y": {"datum": 0}}},
            {"data": {"name": "lC"}, "mark": {"type": "point", "filled": true, "opacity": 1, "size": 40, "shape": "circle"},
             "encoding": {
               "x": {"field": "x", "type": "quantitative", "scale": {"domain": [-0.457, 0.11], "nice": false, "zero": false}, "axis": {"values": [-0.4, -0.3, -0.2, -0.1, 0, 0.1], "title": "Loadings on LV1"}},
               "y": {"field": "y", "type": "quantitative", "scale": {"domain": [-0.2, 0.25], "nice": false, "zero": false}, "axis": {"values": [-0.2, -0.15, -0.1, -0.05, 0, 0.05, 0.1, 0.15, 0.2, 0.25], "title": "Loadings on LV2"}},
               "order": {"field": "v", "type": "quantitative"},
               "color": {"field": "v", "type": "quantitative", "scale": {"domain": [0.2, 109], "range": ["#000080", "#0000ff", "#0080ff", "#00ffff", "#80ff80", "#ffff00", "#ff8000", "#ff0000", "#800000"], "interpolate": "rgb"}, "legend": {"orient": "right", "offset": 9, "title": null, "direction": "vertical", "gradientLength": 178, "gradientThickness": 18, "values": [10, 20, 30, 40, 50, 60, 70, 80, 90, 100], "labelFont": "Liberation Sans", "labelFontSize": 10, "labelColor": "#222", "gradientStrokeColor": "#000", "gradientStrokeWidth": 1}}
             }},
            {"data": {"name": "tC"}, "mark": {"type": "text", "align": "left", "baseline": "middle", "font": "Lato", "fontSize": 13, "color": "#222"},
             "encoding": {"x": {"field": "x", "type": "quantitative"}, "y": {"field": "y", "type": "quantitative"}, "text": {"field": "t"}}}
          ]
        }
      ]
    }
  ],
  "spacing": -2,
  "resolve": {"scale": {"color": "independent", "shape": "independent"}, "legend": {"color": "independent", "shape": "independent"}}
}
